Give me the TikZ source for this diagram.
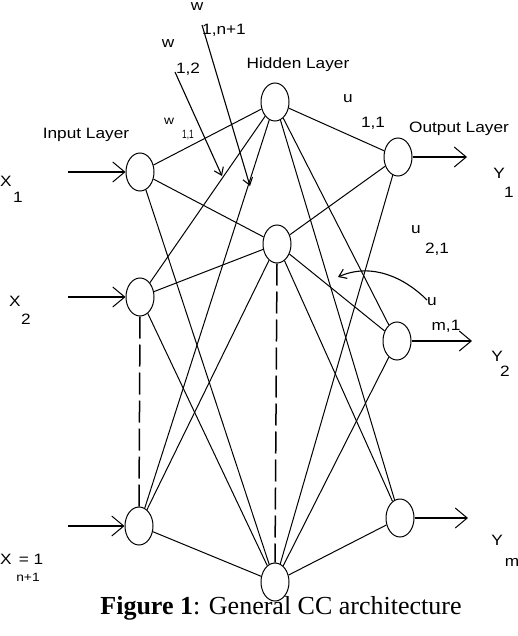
\documentclass[tikz,border=0pt]{standalone}
\usepackage{fontspec}
\setmainfont{Liberation Serif}
\newfontfamily\labfont[FakeStretch=1.15]{Liberation Sans}
\usetikzlibrary{shapes.geometric,arrows.meta}
\begin{document}
\begin{tikzpicture}[x=1pt,y=-1pt,
  neuron/.style={draw, ellipse, minimum width=28pt, minimum height=38pt, inner sep=0pt, line width=1pt},
  conn/.style={line width=1pt},
  dconn/.style={line width=1.5pt, dash pattern=on 22pt off 6pt},
  ioarr/.style={line width=1.4pt, -{Straight Barb[length=12pt,width=20pt,line width=1pt]}},
  warr/.style={line width=1.1pt, -{Straight Barb[length=7pt,width=10pt,line width=1.1pt]}},
  lab/.style={inner sep=0pt, font=\labfont\fontsize{15}{15}\selectfont},
  slab/.style={inner sep=0pt, font=\labfont\fontsize{12}{12}\selectfont}]
\useasboundingbox (0,0) rectangle (518,636);
% neurons
\node[neuron] (I1) at (140,172) {};
\node[neuron] (I2) at (140,297) {};
\node[neuron] (I3) at (139,526) {};
\node[neuron] (H1) at (275,102) {};
\node[neuron] (H2) at (277,244) {};
\node[neuron] (H3) at (275,582) {};
\node[neuron] (O1) at (398,157) {};
\node[neuron] (O2) at (397,341) {};
\node[neuron] (O3) at (400,518) {};
% connections input -> hidden
\foreach \i in {I1,I2,I3}{\foreach \h in {H1,H2,H3}{\draw[conn] (\i) -- (\h);}}
% hidden -> output
\foreach \h in {H1,H2,H3}{\foreach \o in {O1,O2,O3}{\draw[conn] (\h) -- (\o);}}
% dashed
\draw[dconn] (I2.south) -- (I3.north);
\draw[dconn] (H2.south) -- (H3.north);
% input arrows
\coordinate (x1s) at (68,172);
\coordinate (x2s) at (68,297);
\coordinate (x3s) at (68,526);
\draw[ioarr] (x1s) -- (I1.west);
\draw[ioarr] (x2s) -- (I2.west);
\draw[ioarr] (x3s) -- (I3.west);
% output arrows
\coordinate (y1e) at (467,157);
\coordinate (y2e) at (472,341);
\coordinate (y3e) at (468,518);
\draw[ioarr] (O1.east) -- (y1e);
\draw[ioarr] (O2.east) -- (y2e);
\draw[ioarr] (O3.east) -- (y3e);
% weight arrows
\coordinate (wa) at (202,25);
\coordinate (wat) at (250,186);
\coordinate (wb) at (175,72);
\coordinate (wbt) at (222,176);
\draw[warr] (wa) -- (wat);
\draw[warr] (wb) -- (wbt);
\coordinate (um) at (427,300);
\coordinate (umt) at (338,277);
\draw[warr] (um) .. controls (405,278) and (372,262) .. (umt);
% labels
\node[lab] (tin) at (86,135) {Input Layer};
\node[lab] (thid) at (298,65) {Hidden Layer};
\node[lab] (tout) at (459,129) {Output Layer};
\node[lab] (w1) at (197,7) {w};
\node[lab] (w1s) at (224,30) {1,n+1};
\node[lab] (w2) at (168,44) {w};
\node[lab] (w2s) at (188,69) {1,2};
\node[slab] (w3) at (169,121) {w};
\node[slab] (w3s) at (188,135) {\scalebox{0.6}[1]{1,1}};
\node[lab] (u1) at (348,99) {u};
\node[lab] (u1s) at (373,123) {1,1};
\node[lab] (u2) at (416,230) {u};
\node[lab] (u2s) at (437,249) {2,1};
\node[lab] (u3) at (432,302) {u};
\node[lab] (u3s) at (446,326) {m,1};
\node[lab] (Y1) at (499,173) {Y};
\node[lab] (Y1s) at (509,192) {1};
\node[lab] (Y2) at (497,356) {Y};
\node[lab] (Y2s) at (505,371) {2};
\node[lab] (Y3) at (497,540) {Y};
\node[lab] (Y3s) at (512,562) {m};
\node[lab] (X1) at (6,181) {X};
\node[lab] (X1s) at (18,197) {1};
\node[lab] (X2) at (15,301) {X};
\node[lab] (X2s) at (26,319) {2};
\node[lab] (X3) at (6,559) {X};
\node[lab] (X3e) at (31,559) {= 1};
\node[slab] (X3s) at (28,577) {n+1};
% caption
\node[inner sep=0pt, anchor=base, font=\fontsize{26}{26}\selectfont] (cap) at (281,614) {\textbf{Figure 1}: General CC architecture};
\end{tikzpicture}
\end{document}
